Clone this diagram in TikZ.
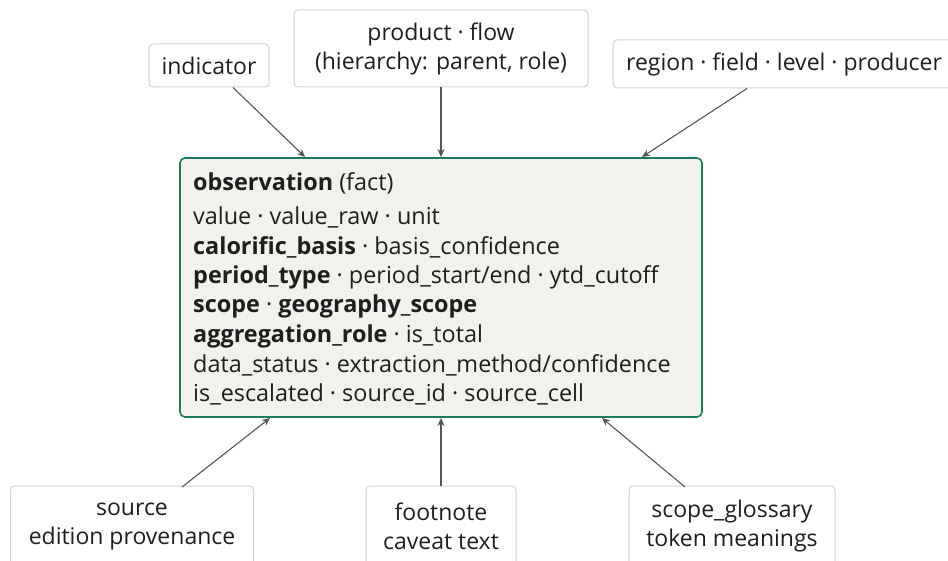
\documentclass[tikz,border=0pt]{standalone}
\usepackage{fontspec}
\setmainfont{Open Sans}
\usetikzlibrary{arrows.meta}
\definecolor{boxline}{HTML}{D4D3CB}
\definecolor{mainline}{HTML}{1F7A5C}
\definecolor{mainfill}{HTML}{F2F1EC}
\definecolor{arrowc}{HTML}{555555}
\definecolor{txt}{HTML}{1E1E1E}
\tikzset{
  entbox/.style={draw=boxline, line width=1pt, rounded corners=4pt, fill=white, inner sep=0pt, align=center, text=txt, font=\fontsize{23}{29}\selectfont},
  mainbox/.style={draw=mainline, line width=1.6pt, rounded corners=5pt, fill=mainfill, inner sep=0pt},
  fieldline/.style={anchor=base west, inner sep=0pt, text=txt, font=\fontsize{23.4}{28}\selectfont},
  conn/.style={draw=arrowc, line width=1.1pt, -{Stealth[length=8pt,width=7pt]}}
}
\begin{document}
\begin{tikzpicture}[x=1pt,y=-1pt]
\useasboundingbox (0,0) rectangle (948,561);
\node[mainbox, minimum width=522pt, minimum height=259pt] (obs) at (441,287.5) {};
\node[fieldline] (l0) at (193,191) {\textbf{observation} (fact)};
\node[fieldline] (l1) at (193,225) {value · value\_raw · unit};
\node[fieldline] (l2) at (193,254.5) {\textbf{calorific\_basis} · basis\_confidence};
\node[fieldline] (l3) at (193,284) {\textbf{period\_type} · period\_start/end · ytd\_cutoff};
\node[fieldline] (l4) at (193,313) {\textbf{scope} · \textbf{geography\_scope}};
\node[fieldline] (l5) at (193,342.5) {\textbf{aggregation\_role} · is\_total};
\node[fieldline] (l6) at (193,372) {data\_status · extraction\_method/confidence};
\node[fieldline] (l7) at (193,401) {is\_escalated · source\_id · source\_cell};

\node[entbox, minimum width=120pt, minimum height=43pt] (ind) at (209,65.5) {indicator};
\node[entbox, minimum width=294pt, minimum height=77pt] (prod) at (441,48.5) {product · flow\\(hierarchy: parent, role)};
\node[entbox, minimum width=342pt, minimum height=48pt] (reg) at (784,64) {region · field · level · producer};

\node[entbox, minimum width=243pt, minimum height=80pt] (src) at (132,526) {source\\edition provenance};
\node[entbox, minimum width=150pt, minimum height=80pt] (fn) at (441,526) {footnote\\caveat text};
\node[entbox, minimum width=206pt, minimum height=80pt] (sg) at (732,526) {scope\_glossary\\token meanings};

\coordinate (a1) at (305,157);
\coordinate (a3) at (642,157);
\coordinate (b1) at (270,418);
\coordinate (b3) at (602,418);
\draw[conn] (233,87.5) -- (a1);
\draw[conn] (prod.south) -- (441,157);
\draw[conn] (747,88.5) -- (a3);
\draw[conn] (182,487) -- (b1);
\draw[conn] (fn.north) -- (441,418);
\draw[conn] (685,487) -- (b3);
\end{tikzpicture}
\end{document}
